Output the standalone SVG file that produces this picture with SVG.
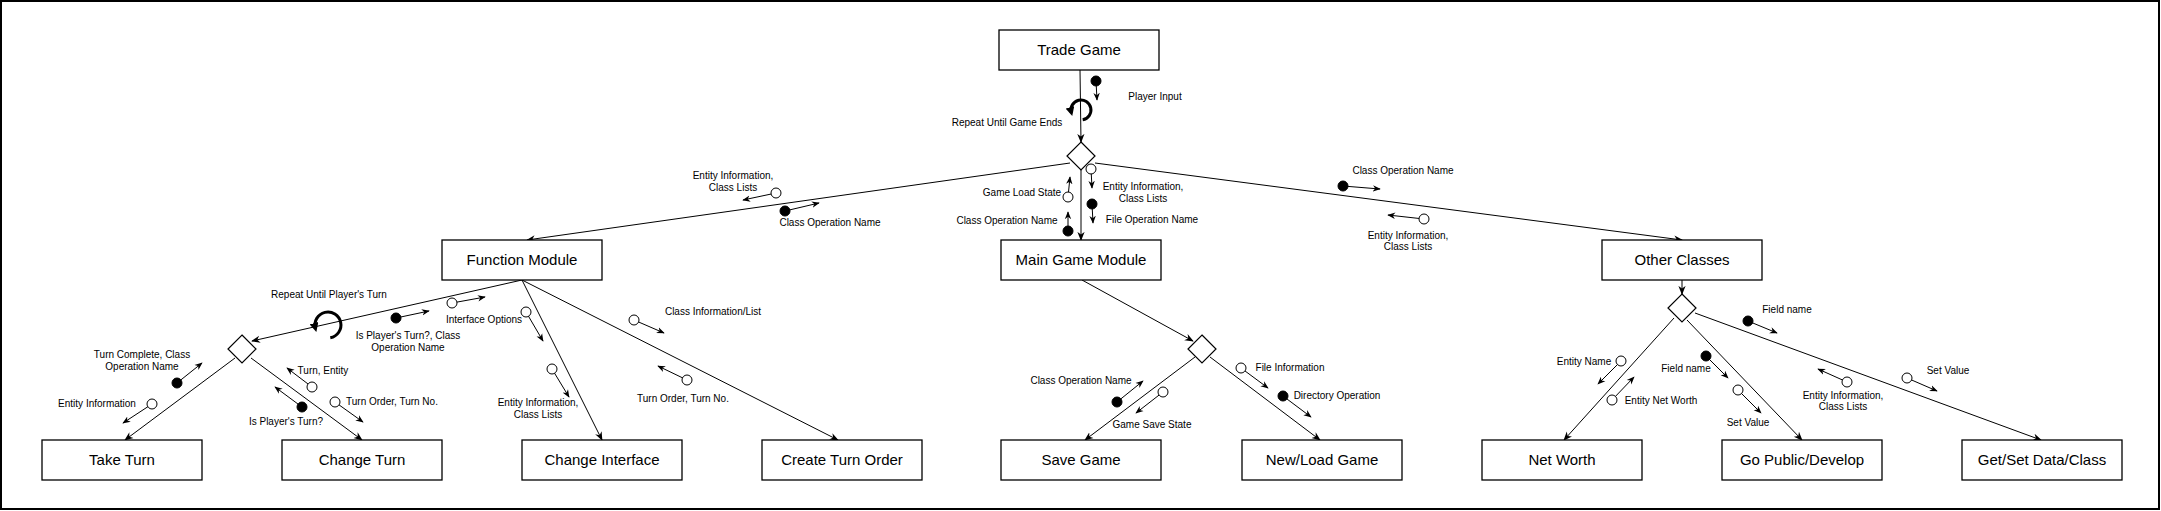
<svg xmlns="http://www.w3.org/2000/svg" width="2161" height="511" viewBox="0 0 2161 511">
<style>
.box{fill:#fff;stroke:#000;stroke-width:1.3}
.dia{fill:#fff;stroke:#000;stroke-width:1.2}
.bl{font-family:"Liberation Sans",Arial,sans-serif;font-size:15px;text-anchor:middle;fill:#000}
.lb{font-family:"Liberation Sans",Arial,sans-serif;font-size:10px;text-anchor:middle;fill:#000}
.con{stroke:#000;stroke-width:1;fill:none;marker-end:url(#a)}
.sm{stroke:#000;stroke-width:1;fill:none;marker-end:url(#s)}
.wc{fill:#fff;stroke:#000;stroke-width:1}
.bc{fill:#000;stroke:#000;stroke-width:1}
.loop{stroke:#000;stroke-width:3;fill:none;marker-end:url(#l)}
</style>
<defs>
<marker id="a" viewBox="0 0 10 10" refX="9" refY="5" markerWidth="9" markerHeight="9" markerUnits="userSpaceOnUse" orient="auto"><path d="M0,1 L10,5 L0,9 L3,5 z" fill="#000"/></marker>
<marker id="s" viewBox="0 0 10 10" refX="9" refY="5" markerWidth="8" markerHeight="8" markerUnits="userSpaceOnUse" orient="auto"><path d="M0,1 L10,5 L0,9 L3,5 z" fill="#000"/></marker>
<marker id="l" viewBox="0 0 10 10" refX="6" refY="5" markerWidth="9" markerHeight="9" markerUnits="userSpaceOnUse" orient="auto"><path d="M0,0 L10,5 L0,10 z" fill="#000"/></marker>
</defs>
<rect x="1" y="1" width="2158" height="508" fill="#fff" stroke="#000" stroke-width="2"/>

<g id="connectors">
<path class="con" d="M1080,70 L1081,142"/>
<path class="con" d="M1081,170 L1081,240"/>
<path class="con" d="M1070,163 L527,240"/>
<path class="con" d="M1095,163 L1682,240"/>
<path class="con" d="M522,280 L252,341"/>
<path class="con" d="M235,358 L125,440"/>
<path class="con" d="M251,358 L362,440"/>
<path class="con" d="M522,280 L602,440"/>
<path class="con" d="M522,280 L838,440"/>
<path class="con" d="M1082,280 L1193,341"/>
<path class="con" d="M1195,357 L1085,440"/>
<path class="con" d="M1210,357 L1320,440"/>
<path class="con" d="M1682,280 L1682,294"/>
<path class="con" d="M1674,318 L1564,440"/>
<path class="con" d="M1687,320 L1802,440"/>
<path class="con" d="M1695,313 L2041,440"/>
</g>

<g id="loops">
<path class="loop" d="M1082.7,119.8 A10,10 0 1 0 1071.3,112.6"/>
<path class="loop" d="M330.3,337.8 A13,13 0 1 0 315.4,328.4"/>
</g>

<g id="flows">
<path class="sm" d="M1096,81 L1097,100"/><circle class="bc" cx="1096" cy="81" r="5"/>
<path class="sm" d="M1091,169 L1092,188"/><circle class="wc" cx="1091" cy="169" r="5"/>
<path class="sm" d="M1092,204 L1093,223"/><circle class="bc" cx="1092" cy="204" r="5"/>
<path class="sm" d="M1068,197 L1070,177"/><circle class="wc" cx="1068" cy="197" r="5"/>
<path class="sm" d="M1068,231 L1068,212"/><circle class="bc" cx="1068" cy="231" r="5"/>
<path class="sm" d="M776,193 L743,200"/><circle class="wc" cx="776" cy="193" r="5"/>
<path class="sm" d="M785,211 L819,203"/><circle class="bc" cx="785" cy="211" r="5"/>
<path class="sm" d="M1343,186 L1380,189"/><circle class="bc" cx="1343" cy="186" r="5"/>
<path class="sm" d="M1424,219 L1388,215"/><circle class="wc" cx="1424" cy="219" r="5"/>
<path class="sm" d="M396,318 L429,311"/><circle class="bc" cx="396" cy="318" r="5"/>
<path class="sm" d="M452,303 L485,297"/><circle class="wc" cx="452" cy="303" r="5"/>
<path class="sm" d="M177,383 L202,363"/><circle class="bc" cx="177" cy="383" r="5"/>
<path class="sm" d="M152,404 L123,423"/><circle class="wc" cx="152" cy="404" r="5"/>
<path class="sm" d="M312,387 L287,368"/><circle class="wc" cx="312" cy="387" r="5"/>
<path class="sm" d="M302,407 L275,387"/><circle class="bc" cx="302" cy="407" r="5"/>
<path class="sm" d="M335,402 L363,422"/><circle class="wc" cx="335" cy="402" r="5"/>
<path class="sm" d="M526,312 L543,341"/><circle class="wc" cx="526" cy="312" r="5"/>
<path class="sm" d="M552,369 L569,397"/><circle class="wc" cx="552" cy="369" r="5"/>
<path class="sm" d="M634,320 L664,333"/><circle class="wc" cx="634" cy="320" r="5"/>
<path class="sm" d="M687,380 L658,366"/><circle class="wc" cx="687" cy="380" r="5"/>
<path class="sm" d="M1117,402 L1143,381"/><circle class="bc" cx="1117" cy="402" r="5"/>
<path class="sm" d="M1163,392 L1136,413"/><circle class="wc" cx="1163" cy="392" r="5"/>
<path class="sm" d="M1241,368 L1268,388"/><circle class="wc" cx="1241" cy="368" r="5"/>
<path class="sm" d="M1283,396 L1311,417"/><circle class="bc" cx="1283" cy="396" r="5"/>
<path class="sm" d="M1621,361 L1598,384"/><circle class="wc" cx="1621" cy="361" r="5"/>
<path class="sm" d="M1612,400 L1634,377"/><circle class="wc" cx="1612" cy="400" r="5"/>
<path class="sm" d="M1706,356 L1728,378"/><circle class="bc" cx="1706" cy="356" r="5"/>
<path class="sm" d="M1738,390 L1761,413"/><circle class="wc" cx="1738" cy="390" r="5"/>
<path class="sm" d="M1748,321 L1777,333"/><circle class="bc" cx="1748" cy="321" r="5"/>
<path class="sm" d="M1847,382 L1818,369"/><circle class="wc" cx="1847" cy="382" r="5"/>
<path class="sm" d="M1907,378 L1937,391"/><circle class="wc" cx="1907" cy="378" r="5"/>
</g>

<g id="labels">
<text class="lb" x="1155" y="100.3">Player Input</text>
<text class="lb" x="1007" y="126.3">Repeat Until Game Ends</text>
<text class="lb" x="1143" y="190.3">Entity Information,</text>
<text class="lb" x="1143" y="201.9">Class Lists</text>
<text class="lb" x="1152" y="222.9">File Operation Name</text>
<text class="lb" x="1022" y="196.3">Game Load State</text>
<text class="lb" x="1007" y="224.3">Class Operation Name</text>
<text class="lb" x="733" y="179.3">Entity Information,</text>
<text class="lb" x="733" y="190.9">Class Lists</text>
<text class="lb" x="830" y="225.9">Class Operation Name</text>
<text class="lb" x="1403" y="174.3">Class Operation Name</text>
<text class="lb" x="1408" y="238.6">Entity Information,</text>
<text class="lb" x="1408" y="250.3">Class Lists</text>
<text class="lb" x="329" y="297.6">Repeat Until Player's Turn</text>
<text class="lb" x="408" y="338.9">Is Player's Turn?, Class</text>
<text class="lb" x="408" y="350.9">Operation Name</text>
<text class="lb" x="484" y="322.9">Interface Options</text>
<text class="lb" x="142" y="358.3">Turn Complete, Class</text>
<text class="lb" x="142" y="370.3">Operation Name</text>
<text class="lb" x="97" y="407.3">Entity Information</text>
<text class="lb" x="323" y="374.3">Turn, Entity</text>
<text class="lb" x="286" y="424.6">Is Player's Turn?</text>
<text class="lb" x="392" y="405.3">Turn Order, Turn No.</text>
<text class="lb" x="538" y="405.9">Entity Information,</text>
<text class="lb" x="538" y="417.6">Class Lists</text>
<text class="lb" x="713" y="314.9">Class Information/List</text>
<text class="lb" x="683" y="401.9">Turn Order, Turn No.</text>
<text class="lb" x="1081" y="384.3">Class Operation Name</text>
<text class="lb" x="1152" y="427.9">Game Save State</text>
<text class="lb" x="1290" y="370.9">File Information</text>
<text class="lb" x="1337" y="399.3">Directory Operation</text>
<text class="lb" x="1584" y="365.3">Entity Name</text>
<text class="lb" x="1661" y="403.6">Entity Net Worth</text>
<text class="lb" x="1686" y="371.9">Field name</text>
<text class="lb" x="1748" y="425.9">Set Value</text>
<text class="lb" x="1787" y="312.9">Field name</text>
<text class="lb" x="1843" y="398.6">Entity Information,</text>
<text class="lb" x="1843" y="410.3">Class Lists</text>
<text class="lb" x="1948" y="374.3">Set Value</text>
</g>

<g id="d1"><path class="dia" d="M1081,142 L1095,156 L1081,170 L1067,156 Z"/></g>
<g id="d2"><path class="dia" d="M242,335 L256,349 L242,363 L228,349 Z"/></g>
<g id="d3"><path class="dia" d="M1202,335 L1216,349 L1202,363 L1188,349 Z"/></g>
<g id="d4"><path class="dia" d="M1682,294 L1696,308 L1682,322 L1668,308 Z"/></g>

<g id="trade-game"><rect class="box" x="999" y="30" width="160" height="40"/><text class="bl" x="1079" y="55.4">Trade Game</text></g>
<g id="main-game-module"><rect class="box" x="1001" y="240" width="160" height="40"/><text class="bl" x="1081" y="265.4">Main Game Module</text></g>
<g id="function-module"><rect class="box" x="442" y="240" width="160" height="40"/><text class="bl" x="522" y="265.4">Function Module</text></g>
<g id="other-classes"><rect class="box" x="1602" y="240" width="160" height="40"/><text class="bl" x="1682" y="265.4">Other Classes</text></g>
<g id="take-turn"><rect class="box" x="42" y="440" width="160" height="40"/><text class="bl" x="122" y="465.4">Take Turn</text></g>
<g id="change-turn"><rect class="box" x="282" y="440" width="160" height="40"/><text class="bl" x="362" y="465.4">Change Turn</text></g>
<g id="change-interface"><rect class="box" x="522" y="440" width="160" height="40"/><text class="bl" x="602" y="465.4">Change Interface</text></g>
<g id="create-turn-order"><rect class="box" x="762" y="440" width="160" height="40"/><text class="bl" x="842" y="465.4">Create Turn Order</text></g>
<g id="save-game"><rect class="box" x="1001" y="440" width="160" height="40"/><text class="bl" x="1081" y="465.4">Save Game</text></g>
<g id="new-load-game"><rect class="box" x="1242" y="440" width="160" height="40"/><text class="bl" x="1322" y="465.4">New/Load Game</text></g>
<g id="net-worth"><rect class="box" x="1482" y="440" width="160" height="40"/><text class="bl" x="1562" y="465.4">Net Worth</text></g>
<g id="go-public-develop"><rect class="box" x="1722" y="440" width="160" height="40"/><text class="bl" x="1802" y="465.4">Go Public/Develop</text></g>
<g id="get-set-data-class"><rect class="box" x="1962" y="440" width="160" height="40"/><text class="bl" x="2042" y="465.4">Get/Set Data/Class</text></g>
</svg>
